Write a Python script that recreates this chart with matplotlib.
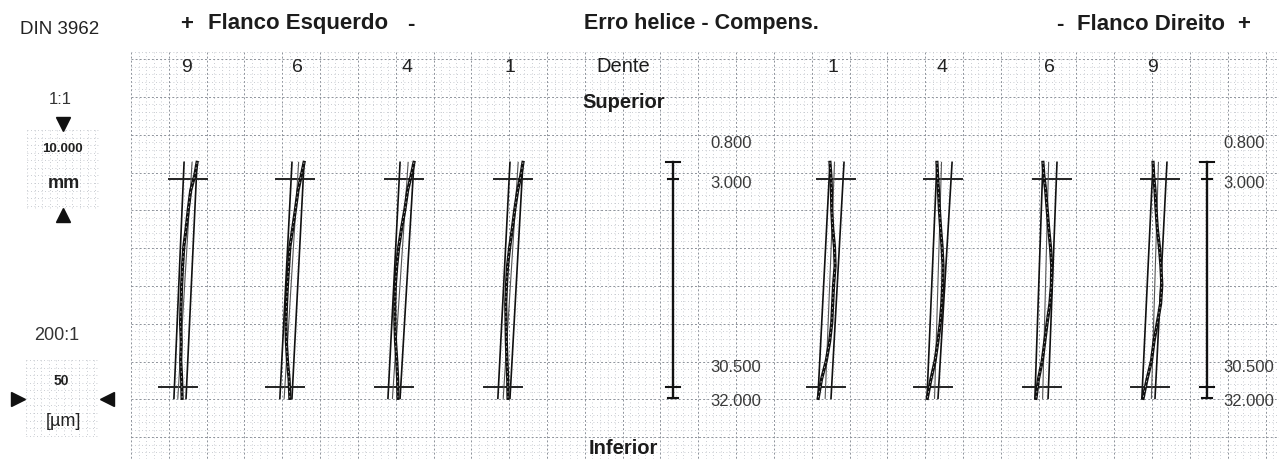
import numpy as np
import matplotlib
matplotlib.use("Agg")
import matplotlib.pyplot as plt

plt.rcParams['font.family'] = ['Liberation Sans', 'DejaVu Sans']

W, H = 1279, 459
PX_MM = 7.564            # paper pixels per mm, face width drawn 1:1
PX_UM = PX_MM * 0.2      # 200:1 -> 1 um of deviation is 0.2 mm of paper
Y_REF = 179              # pixel row of the 3.000 mm mark

# face width stations along every trace (mm)
face_width = [0.8, 2.5, 4.5, 7, 9.5, 12, 14.5, 17, 19.5, 22, 24.5, 27, 29.5, 32]
fw_start, fw_end = 0.8, 32.0
eval_start, eval_end = 3.0, 30.5
scale_labels = ["0.800", "3.000", "30.500", "32.000"]

# left flank, teeth 9 6 4 1 : helix deviation (um)
left_teeth = ["9", "6", "4", "1"]
left_dev = [
    [6.0, 4.5, 1.8, 0.2, -1.2, -2.8, -3.6, -4.2, -4.6, -4.9, -4.5, -4.8, -4.2, -3.9],
    [6.0, 4.2, 2.0, 0.3, -1.5, -3.4, -4.2, -5.0, -5.6, -6.0, -5.7, -5.0, -3.9, -3.4],
    [6.6, 4.8, 2.4, 0.6, -1.6, -3.5, -4.8, -5.7, -6.1, -6.0, -5.6, -4.8, -4.2, -4.0],
    [6.6, 5.2, 3.1, 1.2, -0.4, -2.2, -3.6, -4.3, -4.8, -4.6, -4.4, -4.0, -3.5, -3.3],
]
# tolerance lines (um at 0.8 mm, um at 32 mm)
left_tol_a = [(-2.6, -9.3), (-2.0, -10.0), (-2.6, -10.6), (-2.0, -10.0)]
left_tol_b = [(6.0, -1.3), (6.0, -2.0), (6.6, -2.6), (6.6, -2.0)]

# right flank, teeth 1 4 6 9
right_teeth = ["1", "4", "6", "9"]
right_dev = [
    [-4.0, -3.4, -3.0, -2.8, -2.2, -1.0, -0.6, -1.6, -2.2, -2.8, -4.2, -6.4, -9.6, -11.8],
    [-4.0, -3.6, -3.0, -2.4, -1.6, -0.6, 0.0, -0.2, -0.8, -1.8, -3.4, -5.2, -8.0, -10.4],
    [-6.0, -5.4, -4.2, -3.2, -2.2, -1.0, -0.2, -0.4, -1.4, -3.2, -4.8, -6.4, -9.0, -10.6],
    [-4.6, -4.2, -3.3, -2.6, -1.8, -0.4, 0.6, 1.2, 0.4, -1.8, -4.0, -5.6, -8.6, -11.2],
]
right_tol_a = [(-4.0, -12.0), (-4.0, -10.6), (-6.0, -11.3), (-4.6, -12.0)]
right_tol_b = [(5.3, -3.3), (6.0, -3.3), (3.3, -2.6), (4.6, -3.3)]

# centre of the evaluation marks (um) at 3.000 and 30.500
mark_centre = [0.0, -6.6]
mark_half = 12.6

# layout (pixels)
left_x = [188, 295, 404, 513]
right_x = [836, 943, 1052, 1160]
left_num_x = [187, 297, 407, 510]
right_num_x = [833, 942, 1049, 1153]

fig = plt.figure(figsize=(W / 100, H / 100), dpi=100)
fig.patch.set_facecolor('white')

bg = fig.add_axes([0, 0, 1, 1])
bg.set_xlim(0, W)
bg.set_ylim(H, 0)
bg.axis('off')

minor_kw = dict(color='#b9bdc4', lw=0.6, ls=(0, (1, 3.2)))
major_kw = dict(color='#8d929a', lw=0.7, ls=(0, (2, 2.2)))


def dotted_grid(ax, x0, x1, y0, y1, xs0, ys0, majors=True):
    xs = np.arange(xs0, x1 + 0.1, PX_MM)
    ys = np.arange(ys0, y1 + 0.1, PX_MM)
    for i, x in enumerate(xs):
        kw = major_kw if (majors and i % 5 == 0) else minor_kw
        ax.plot([x, x], [y0, y1], **kw)
    for j, y in enumerate(ys):
        kw = major_kw if (majors and j % 5 == 1) else minor_kw
        ax.plot([x0, x1], [y, y], **kw)


# main paper grid
dotted_grid(bg, 131, W, 52, H, 131, 51.5)
# little scale boxes on the left
dotted_grid(bg, 27, 99, 130, 208, 27, 130, majors=False)
dotted_grid(bg, 26, 98, 360, 437, 26, 360, majors=False)

# headers
hdr = dict(fontsize=16, fontweight='bold', color='#1c1c1c', va='center', ha='center')
bg.text(60, 30, "DIN 3962", fontsize=13.5, color='#222222', va='center', ha='center')
bg.text(187, 24, "+", **hdr)
bg.text(298, 24, "Flanco Esquerdo", **hdr)
bg.text(411, 24, "-", **hdr)
bg.text(701, 24, "Erro helice - Compens.", fontsize=15.5, fontweight='bold',
        color='#1c1c1c', va='center', ha='center')
bg.text(1060, 25, "-", **hdr)
bg.text(1151, 25, "Flanco Direito", **hdr)
bg.text(1244, 25, "+", **hdr)

for lbl, x in zip(left_teeth, left_num_x):
    bg.text(x, 67, lbl, fontsize=14, color='#222222', ha='center', va='center')
for lbl, x in zip(right_teeth, right_num_x):
    bg.text(x, 67, lbl, fontsize=14, color='#222222', ha='center', va='center')
bg.text(623, 67, "Dente", fontsize=14.5, color='#1c1c1c', ha='center', va='center')
bg.text(624, 103, "Superior", fontsize=14.5, fontweight='bold', color='#1c1c1c',
        ha='center', va='center')
bg.text(623, 449, "Inferior", fontsize=14.5, fontweight='bold', color='#1c1c1c',
        ha='center', va='center')

# scale panel
bg.text(60, 100, "1:1", fontsize=12, color='#333333', ha='center', va='center')
bg.plot(63, 124, marker='v', ms=10, color='#111111')
bg.text(62, 149, "10.000", fontsize=9.5, fontweight='bold', color='#222222',
        ha='center', va='center')
bg.text(64, 183, "mm", fontsize=13, fontweight='bold', color='#222222',
        ha='center', va='center')
bg.plot(63, 215, marker='^', ms=10, color='#111111')
bg.text(57, 335, "200:1", fontsize=13, color='#333333', ha='center', va='center')
bg.text(61, 381, "50", fontsize=10, fontweight='bold', color='#222222',
        ha='center', va='center')
bg.text(63, 421, "[µm]", fontsize=13, color='#222222', ha='center', va='center')
bg.plot(18, 399, marker='>', ms=10, color='#111111')
bg.plot(107, 399, marker='<', ms=10, color='#111111')

# face width scale bars (x in pixels, y in mm)
fw_lo = 3 + (H - Y_REF) / PX_MM
fw_hi = 3 - Y_REF / PX_MM
fw_ax = fig.add_axes([0, 0, 1, 1])
fw_ax.set_xlim(0, W)
fw_ax.set_ylim(fw_lo, fw_hi)
fw_ax.axis('off')
fw_ax.patch.set_alpha(0)
scale_vals = [fw_start, eval_start, eval_end, fw_end]
cap_half = [7, 5, 7, 5]
for xb, xl in [(673, 710), (1207, 1223)]:
    fw_ax.plot([xb, xb], [fw_start, fw_end], color='#111111', lw=1.7)
    for v, hw in zip(scale_vals, cap_half):
        fw_ax.plot([xb - hw, xb + hw], [v, v], color='#111111', lw=1.5)
    lab_y = [143, 183, 367, 401]
    for lbl, yy in zip(scale_labels, lab_y):
        bg.text(xl, yy, lbl, fontsize=12, color='#3a3a3a', ha='left', va='center')


def tooth(x0, dev, tol_a, tol_b):
    half_px = 45
    ax = fig.add_axes([(x0 - half_px) / W, 0, 2 * half_px / W, 1])
    ax.set_xlim(-half_px / PX_UM, half_px / PX_UM)
    ax.set_ylim(fw_lo, fw_hi)
    ax.axis('off')
    ax.patch.set_alpha(0)
    ends = [fw_start, fw_end]
    ax.plot(tol_a, ends, color='#111111', lw=1.2)
    ax.plot(tol_b, ends, color='#111111', lw=1.2)
    for fw, c in zip([eval_start, eval_end], mark_centre):
        ax.plot([c - mark_half, c + mark_half], [fw, fw], color='#222222', lw=1.4)
    coef = np.polyfit(face_width, dev, 1)
    ax.plot(np.polyval(coef, ends), ends, color='#555555', lw=0.8)
    ax.plot(dev, face_width, color='#101010', lw=2.3, solid_joinstyle='round')
    ax.plot(dev, face_width, color='#bdbdbd', lw=0.6, ls=(0, (2, 4)))


for x0, d, a, b in zip(left_x, left_dev, left_tol_a, left_tol_b):
    tooth(x0, d, a, b)
for x0, d, a, b in zip(right_x, right_dev, right_tol_a, right_tol_b):
    tooth(x0, d, a, b)

fig.savefig("out.png", dpi=100, facecolor='white')
